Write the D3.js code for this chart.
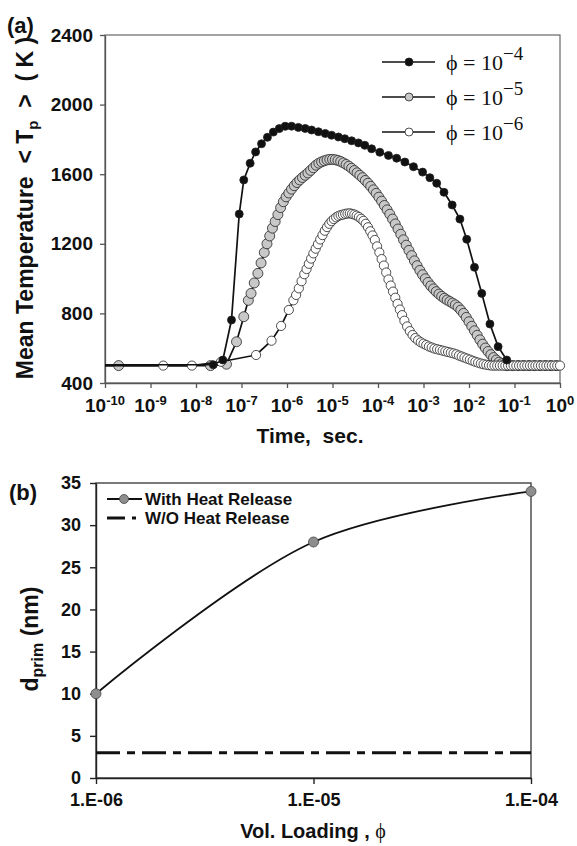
<html>
<script src="https://d3js.org/d3.v7.min.js"></script>
<body style="margin:0;background:#fff">
<svg width="577" height="846"></svg>
<script>
// ---- panel (a): log10(time, s) against mean particle temperature (K)
var timeExponents = [-10, -9, -8, -7, -6, -5, -4, -3, -2, -1, 0];
var tempTicks = [400, 800, 1200, 1600, 2000, 2400];
var phiExponents = ["\u22124", "\u22125", "\u22126"];

// phi = 1e-4 (black dots)
var phi4 = [[-7.62,505],[-7.41,532],[-7.22,762],[-7.05,1371],[-6.95,1567],[-6.81,1663],[-6.69,1728],
  [-6.56,1775],[-6.43,1812],[-6.30,1842],[-6.17,1862],[-6.04,1875],[-5.90,1876],[-5.75,1869],[-5.60,1863],
  [-5.46,1854],[-5.31,1844],[-5.16,1834],[-5.02,1824],[-4.87,1814],[-4.73,1804],[-4.58,1792],[-4.43,1780],
  [-4.29,1766],[-4.14,1746],[-3.96,1726],[-3.77,1708],[-3.59,1692],[-3.41,1670],[-3.22,1643],[-3.02,1612],
  [-2.86,1580],[-2.71,1548],[-2.55,1496],[-2.37,1423],[-2.20,1342],[-2.05,1226],[-1.88,1065],[-1.72,915],
  [-1.54,739],[-1.36,609],[-1.17,532]];

// phi = 1e-5 (grey circles)
var phi5 = [[-9.70,500],[-7.68,500],[-7.33,508],[-7.11,637],[-6.95,781],[-6.85,875],[-6.79,915],[-6.72,975],
  [-6.64,1030],[-6.57,1090],[-6.50,1150],[-6.44,1200],[-6.38,1245],[-6.32,1290],[-6.26,1328],[-6.20,1368],
  [-6.14,1408],[-6.08,1442],[-6.02,1470],[-5.96,1492],[-5.90,1514],[-5.84,1534],[-5.78,1552],[-5.72,1567],
  [-5.66,1581],[-5.60,1594],[-5.54,1607],[-5.48,1622],[-5.42,1637],[-5.36,1652],[-5.30,1663],[-5.24,1671],
  [-5.18,1677],[-5.12,1682],[-5.06,1685],[-5.00,1685],[-4.94,1683],[-4.88,1679],[-4.82,1673],[-4.76,1665],
  [-4.70,1656],[-4.64,1646],[-4.58,1634],[-4.52,1621],[-4.46,1608],[-4.40,1594],[-4.34,1580],[-4.28,1564],
  [-4.22,1548],[-4.16,1530],[-4.10,1510],[-4.04,1490],[-3.98,1468],[-3.92,1445],[-3.86,1420],[-3.80,1395],
  [-3.74,1370],[-3.68,1342],[-3.62,1314],[-3.56,1285],[-3.50,1255],[-3.44,1223],[-3.38,1192],[-3.32,1162],
  [-3.26,1132],[-3.20,1102],[-3.14,1074],[-3.08,1047],[-3.02,1022],[-2.96,999],[-2.90,978],[-2.84,958],
  [-2.78,941],[-2.72,925],[-2.66,911],[-2.60,898],[-2.54,887],[-2.48,877],[-2.42,868],[-2.36,859],
  [-2.30,849],[-2.24,836],[-2.18,819],[-2.12,800],[-2.06,777],[-2.00,752],[-1.94,726],[-1.88,700],
  [-1.82,674],[-1.76,648],[-1.70,623],[-1.64,601],[-1.58,581],[-1.52,563],[-1.46,546],[-1.40,532],
  [-1.34,520],[-1.28,511],[-1.22,504],[-1.16,500],[-1.04,500],[-0.92,500],[-0.80,500],[-0.68,500],
  [-0.56,500],[-0.44,500],[-0.32,500],[-0.20,500],[-0.08,500]];

// phi = 1e-6 (white circles)
var phi6 = [[-8.72,500],[-8.09,500],[-7.45,522],[-6.68,561],[-6.34,643],[-6.13,728],[-5.96,820],[-5.86,875],
  [-5.80,906],[-5.74,944],[-5.68,985],[-5.62,1025],[-5.57,1055],[-5.52,1085],[-5.47,1115],[-5.42,1145],
  [-5.37,1172],[-5.32,1198],[-5.27,1225],[-5.22,1250],[-5.17,1275],[-5.12,1296],[-5.07,1315],[-5.02,1330],
  [-4.97,1342],[-4.92,1352],[-4.87,1360],[-4.82,1365],[-4.77,1368],[-4.72,1372],[-4.67,1374],[-4.62,1375],
  [-4.57,1372],[-4.52,1368],[-4.47,1362],[-4.42,1354],[-4.37,1344],[-4.32,1332],[-4.27,1315],[-4.22,1295],
  [-4.17,1272],[-4.12,1248],[-4.07,1222],[-4.02,1185],[-3.97,1150],[-3.92,1112],[-3.87,1075],[-3.82,1035],
  [-3.77,995],[-3.72,960],[-3.67,925],[-3.62,890],[-3.57,855],[-3.52,822],[-3.47,790],[-3.42,758],
  [-3.36,725],[-3.30,698],[-3.24,676],[-3.18,658],[-3.12,645],[-3.06,634],[-3.00,626],[-2.94,618],
  [-2.88,610],[-2.82,604],[-2.76,598],[-2.70,594],[-2.64,590],[-2.58,586],[-2.52,582],[-2.46,578],
  [-2.40,574],[-2.34,570],[-2.28,565],[-2.22,558],[-2.16,552],[-2.10,546],[-2.04,540],[-1.98,534],
  [-1.92,528],[-1.86,522],[-1.80,517],[-1.74,512],[-1.68,508],[-1.62,505],[-1.56,502],[-1.50,500],
  [-1.44,500],[-1.38,500],[-1.32,500],[-1.26,500],[-1.20,500],[-1.14,500],[-1.08,500],[-1.02,500],
  [-0.96,500],[-0.90,500],[-0.84,500],[-0.78,500],[-0.72,500],[-0.66,500],[-0.60,500],[-0.54,500],
  [-0.48,500],[-0.42,500],[-0.36,500],[-0.30,500],[-0.24,500],[-0.18,500],[-0.12,500],[-0.06,500],[0.00,500]];

// ---- panel (b): primary particle size vs volume loading
var loadings = [1e-6, 1e-5, 1e-4];
var loadingLabels = ["1.E-06", "1.E-05", "1.E-04"];
var dWithHeat = [10, 28, 34];
var dWithoutHeat = [3, 3, 3];
var dTicks = [0, 5, 10, 15, 20, 25, 30, 35];
var legendNamesB = ["With Heat Release", "W/O Heat Release"];

var sans = "'Liberation Sans', Arial, Helvetica, sans-serif";
var serif = "'Liberation Serif', 'Times New Roman', serif";
var svg = d3.select("svg");

// ================= panel (a) =================
var xa = d3.scaleLog().domain([1e-10, 1]).range([105, 560]);
var ya = d3.scaleLinear().domain([400, 2400]).range([383, 35]);

svg.append("rect")
    .attr("x", xa(1e-10)).attr("y", ya(2400))
    .attr("width", xa(1) - xa(1e-10)).attr("height", ya(400) - ya(2400))
    .style("fill", "none").style("stroke", "#666").style("stroke-width", 1.2);

var axA = svg.append("g")
    .attr("transform", "translate(0," + ya(400) + ")")
    .call(d3.axisBottom(xa)
        .tickValues(timeExponents.map(function(e) { return Math.pow(10, e); }))
        .tickSize(5).tickSizeOuter(0).tickFormat(""));

var ayA = svg.append("g")
    .attr("transform", "translate(" + xa(1e-10) + ",0)")
    .call(d3.axisLeft(ya).tickValues(tempTicks).tickFormat(d3.format("d"))
        .tickSize(5).tickSizeOuter(0).tickPadding(7));

[axA, ayA].forEach(function(g) {
    g.selectAll("path, line").style("stroke", "#555").style("stroke-width", 1.3);
});
ayA.selectAll("text").style("font-family", sans).style("font-weight", "bold")
    .style("font-size", "19px").style("fill", "#111");

// 10^n tick labels
timeExponents.forEach(function(e) {
    var t = svg.append("text")
        .attr("x", xa(Math.pow(10, e))).attr("y", 411.5)
        .attr("text-anchor", "middle")
        .style("font-family", sans).style("font-weight", "bold")
        .style("font-size", "19px").style("fill", "#111");
    t.append("tspan").text("10");
    t.append("tspan").attr("dy", -7).style("font-size", "13px").text(e == 0 ? "0" : String(e));
});

var seriesA = [
    { data: phi5, fill: "#c8c8c8", r: 5 },
    { data: phi6, fill: "#ffffff", r: 4.6 },
    { data: phi4, fill: "#111111", r: 4 }
];

var lineA = d3.line()
    .x(function(d) { return xa(Math.pow(10, d[0])); })
    .y(function(d) { return ya(d[1]); });

seriesA.forEach(function(s) {
    svg.append("path")
        .datum([[-10, s.data[0][1]]].concat(s.data))
        .attr("d", lineA)
        .style("fill", "none").style("stroke", "#111").style("stroke-width", 1.7);
    svg.append("g").selectAll("circle")
        .data(s.data)
        .enter().append("circle")
        .attr("cx", function(d) { return xa(Math.pow(10, d[0])); })
        .attr("cy", function(d) { return ya(d[1]); })
        .attr("r", s.r)
        .style("fill", s.fill).style("stroke", "#222").style("stroke-width", 0.8);
});

// legend (a)
var legFill = ["#111111", "#c8c8c8", "#ffffff"];
phiExponents.forEach(function(p, i) {
    var y = 62 + i * 35;
    svg.append("line").attr("x1", 382).attr("x2", 435).attr("y1", y).attr("y2", y)
        .style("stroke", "#111").style("stroke-width", 1.5);
    svg.append("circle").attr("cx", 409).attr("cy", y).attr("r", 4)
        .style("fill", legFill[i]).style("stroke", "#222").style("stroke-width", 0.8);
    var t = svg.append("text").attr("x", 446).attr("y", y + 8)
        .style("font-family", serif).style("font-size", "22px").style("fill", "#111");
    t.append("tspan").text("\u03D5 = 10");
    t.append("tspan").attr("dy", -10).style("font-size", "19px").text(p);
});

svg.append("text").attr("x", 310).attr("y", 443)
    .attr("text-anchor", "middle").attr("xml:space", "preserve")
    .style("white-space", "pre")
    .style("font-family", sans).style("font-weight", "bold").style("font-size", "21px").style("fill", "#111")
    .text("Time,  sec.");

var yl = svg.append("text")
    .attr("transform", "translate(33,208) rotate(-90)")
    .attr("text-anchor", "middle").attr("xml:space", "preserve")
    .style("white-space", "pre")
    .style("font-family", sans).style("font-weight", "bold").style("font-size", "23px").style("fill", "#111");
yl.append("tspan").text("Mean Temperature  < T");
yl.append("tspan").attr("dy", 5).style("font-size", "15px").text("p");
yl.append("tspan").attr("dy", -5).text("  >  ( K )");

svg.append("text").attr("x", 7).attr("y", 33)
    .style("font-family", sans).style("font-weight", "bold").style("font-size", "22px").style("fill", "#111")
    .text("(a)");

// ================= panel (b) =================
var xb = d3.scaleLog().domain([1e-6, 1e-4]).range([96, 531]);
var yb = d3.scaleLinear().domain([0, 35]).range([778, 483]);

svg.append("rect")
    .attr("x", xb(1e-6)).attr("y", yb(35))
    .attr("width", xb(1e-4) - xb(1e-6)).attr("height", yb(0) - yb(35))
    .style("fill", "none").style("stroke", "#333").style("stroke-width", 1.3);

var axB = svg.append("g")
    .attr("transform", "translate(0," + yb(0) + ")")
    .call(d3.axisBottom(xb).tickValues(loadings).tickSize(6).tickSizeOuter(0).tickPadding(9)
        .tickFormat(function(d, i) { return loadingLabels[i]; }));

var ayB = svg.append("g")
    .attr("transform", "translate(" + xb(1e-6) + ",0)")
    .call(d3.axisLeft(yb).tickValues(dTicks).tickSize(6).tickSizeOuter(0).tickPadding(9));

[axB, ayB].forEach(function(g) {
    g.selectAll("path, line").style("stroke", "#222").style("stroke-width", 1.4);
    g.selectAll("text").style("font-family", sans).style("font-weight", "bold")
        .style("font-size", "18px").style("fill", "#111");
});

var withHeat = loadings.map(function(l, i) { return [l, dWithHeat[i]]; });
var withoutHeat = loadings.map(function(l, i) { return [l, dWithoutHeat[i]]; });

var lineB = d3.line()
    .x(function(d) { return xb(d[0]); })
    .y(function(d) { return yb(d[1]); });

svg.append("path").datum(withoutHeat)
    .attr("d", lineB)
    .style("fill", "none").style("stroke", "#111").style("stroke-width", 3)
    .style("stroke-dasharray", "24,7,8,7");

svg.append("path").datum(withHeat)
    .attr("d", lineB.curve(d3.curveCatmullRom.alpha(0.5)))
    .style("fill", "none").style("stroke", "#111").style("stroke-width", 1.8);

svg.append("g").selectAll("circle")
    .data(withHeat).enter().append("circle")
    .attr("cx", function(d) { return xb(d[0]); })
    .attr("cy", function(d) { return yb(d[1]); })
    .attr("r", 5)
    .style("fill", "#8e8e8e").style("stroke", "#444").style("stroke-width", 0.8);

// legend (b)
svg.append("line").attr("x1", 107).attr("x2", 142).attr("y1", 499).attr("y2", 499)
    .style("stroke", "#111").style("stroke-width", 1.8);
svg.append("circle").attr("cx", 124).attr("cy", 499).attr("r", 4.5)
    .style("fill", "#8e8e8e").style("stroke", "#444").style("stroke-width", 0.8);
svg.append("line").attr("x1", 107).attr("x2", 136).attr("y1", 518).attr("y2", 518)
    .style("stroke", "#111").style("stroke-width", 3).style("stroke-dasharray", "18,7,4,7");
legendNamesB.forEach(function(n, i) {
    svg.append("text").attr("x", 145).attr("y", 505 + i * 19)
        .style("font-family", sans).style("font-weight", "bold").style("font-size", "17px").style("fill", "#111")
        .text(n);
});

var xlb = svg.append("text").attr("x", 313).attr("y", 838)
    .attr("text-anchor", "middle")
    .style("font-family", sans).style("font-weight", "bold").style("font-size", "20px").style("fill", "#111");
xlb.append("tspan").text("Vol. Loading , ");
xlb.append("tspan").style("font-family", serif).style("font-weight", "normal").text("\u03D5");

var ylb = svg.append("text")
    .attr("transform", "translate(38,639) rotate(-90)")
    .attr("text-anchor", "middle").attr("xml:space", "preserve")
    .style("white-space", "pre")
    .style("font-family", sans).style("font-weight", "bold").style("font-size", "23px").style("fill", "#111");
ylb.append("tspan").text("d");
ylb.append("tspan").attr("dy", 5).style("font-size", "16px").text("prim");
ylb.append("tspan").attr("dy", -5).text(" (nm)");

svg.append("text").attr("x", 9).attr("y", 500)
    .style("font-family", sans).style("font-weight", "bold").style("font-size", "22px").style("fill", "#111")
    .text("(b)");
</script>
</body>
</html>
